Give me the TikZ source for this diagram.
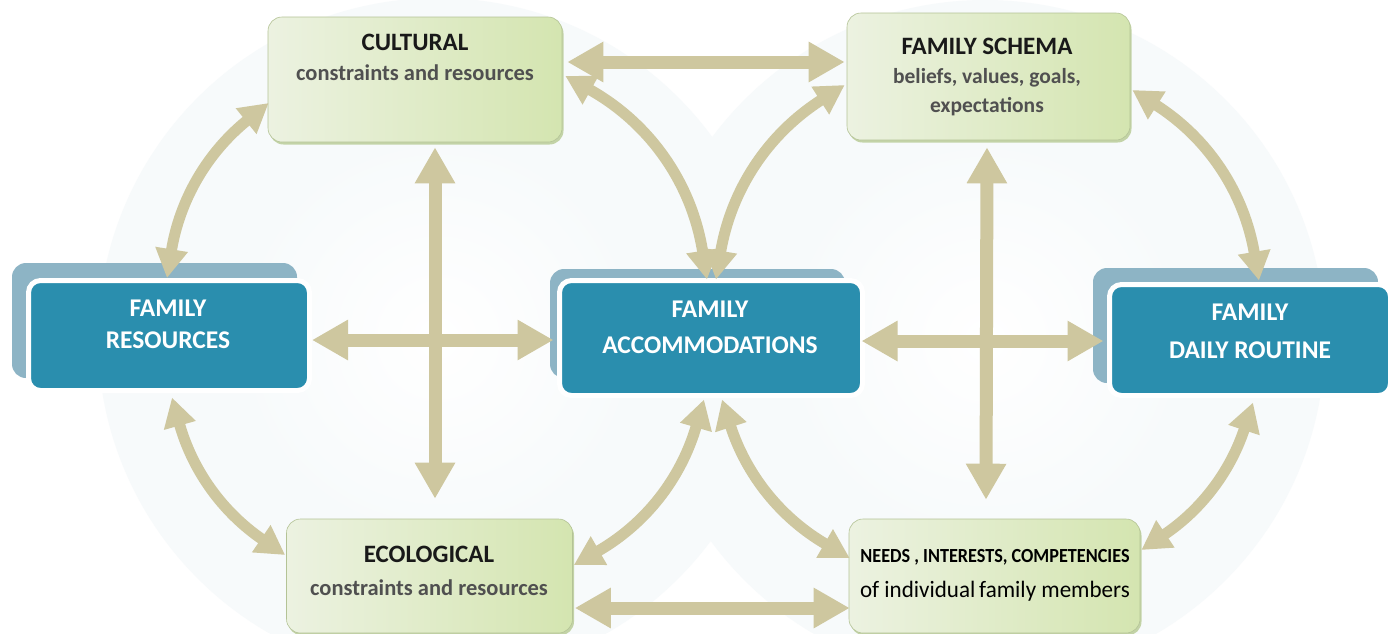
\documentclass[tikz,border=0pt]{standalone}
\usepackage{fontspec}
\setmainfont{Carlito}
\usetikzlibrary{arrows.meta,shadows}

\definecolor{arrowc}{RGB}{206,199,159}
\definecolor{bluefront}{RGB}{42,142,174}
\definecolor{blueback}{RGB}{141,180,197}
\definecolor{greenL}{RGB}{236,242,225}
\definecolor{greenR}{RGB}{212,229,176}
\definecolor{greenshadow}{RGB}{178,199,140}
\definecolor{subgray}{RGB}{80,80,80}
\definecolor{glowc}{RGB}{247,250,251}

\pgfdeclareradialshading{glowshade}{\pgfpoint{0bp}{0bp}}{color(0bp)=(white); color(15bp)=(glowc); color(30bp)=(glowc); color(48bp)=(white); color(50bp)=(white)}

\begin{document}
\begin{tikzpicture}[x=1pt,y=-1pt,
  greenbox/.style={rounded corners=14pt, left color=greenL, right color=greenR,
    draw=greenR!85!black, line width=0.6pt, inner sep=0pt,
    drop shadow={shadow xshift=1.5pt, shadow yshift=-2.5pt, fill=greenshadow, opacity=0.75}},
  backbox/.style={rounded corners=14pt, fill=blueback, inner sep=0pt},
  frontbox/.style={rounded corners=12pt, fill=bluefront, draw=white, line width=5pt, inner sep=0pt},
  gtitle/.style={anchor=base, inner sep=0pt, text=black!90, font=\fontsize{25}{30}\selectfont\bfseries},
  gsub/.style={anchor=base, inner sep=0pt, text=subgray, font=\fontsize{21.5}{26}\selectfont\bfseries},
  btext/.style={anchor=base, inner sep=0pt, text=white, font=\fontsize{25.5}{30}\selectfont\bfseries},
  bigarrow/.style={draw=arrowc, line width=13pt,
    {Triangle[width=38pt,length=36pt]}-{Triangle[width=38pt,length=36pt]}},
  arcarrow/.style={draw=arrowc, line width=11pt,
    {Triangle[width=31pt,length=29pt]}-{Triangle[width=31pt,length=29pt]}}
]
\useasboundingbox (0,0) rectangle (1395,633);
\fill[white] (0,0) rectangle (1395,633);
\shade[shading=glowshade] (438,338) circle[radius=340];
\shade[shading=glowshade] (985,340) circle[radius=340];

% green boxes
\node[greenbox, minimum width=294pt, minimum height=125pt] (cult) at (415,79.5) {};
\node[greenbox, minimum width=283pt, minimum height=127pt] (schema) at (988.5,76.5) {};
\node[greenbox, minimum width=286pt, minimum height=114pt] (ecol) at (429.5,576) {};
\node[greenbox, minimum width=291pt, minimum height=114pt] (needs) at (994.5,576) {};

% blue boxes
\node[backbox, minimum width=285pt, minimum height=115pt] (resback) at (154.5,320.5) {};
\node[frontbox, minimum width=281pt, minimum height=110pt] (res) at (169,335.5) {};
\node[backbox, minimum width=295pt, minimum height=109pt] (accback) at (697.5,323.5) {};
\node[frontbox, minimum width=303pt, minimum height=115pt] (acc) at (711,338) {};
\node[backbox, minimum width=285pt, minimum height=115pt] (dayback) at (1235.5,325.5) {};
\node[frontbox, minimum width=281pt, minimum height=111pt] (day) at (1250,340) {};

% texts
\node[gtitle] (cultT) at (415,50) {CULTURAL};
\node[gsub, font=\fontsize{22.5}{26}\selectfont\bfseries] (cultS) at (415,80) {constraints and resources};
\node[gtitle] (schemaT) at (987,54) {FAMILY SCHEMA};
\node[gsub] (schemaS1) at (987,83) {beliefs, values, goals,};
\node[gsub] (schemaS2) at (987,112) {expectations};
\node[gtitle] (ecolT) at (429,562) {ECOLOGICAL};
\node[gsub, font=\fontsize{22.5}{26}\selectfont\bfseries] (ecolS) at (429,595) {constraints and resources};
\node[anchor=base, inner sep=0pt, text=black, font=\fontsize{20}{24}\selectfont\bfseries] (needsT) at (995,562)
  {\scalebox{0.91}[1]{NEEDS , INTERESTS, COMPETENCIES}};
\node[anchor=base, inner sep=0pt, text=black, font=\fontsize{23.5}{28}\selectfont] (needsS) at (995,597)
  {\scalebox{0.98}[1]{of individual\,family members}};

\node[btext] (resT1) at (168,316) {FAMILY};
\node[btext] (resT2) at (168,348) {RESOURCES};
\node[btext] (accT1) at (710,317) {FAMILY};
\node[btext] (accT2) at (710,353) {ACCOMMODATIONS};
\node[btext] (dayT1) at (1250,320) {FAMILY};
\node[btext] (dayT2) at (1250,358) {DAILY ROUTINE};

% straight arrows
\draw[bigarrow] ([shift={(5,-17.5)}]cult.east) -- ([shift={(-2,-14.5)}]schema.west);
\draw[bigarrow] ([shift={(2,32)}]ecol.east) -- ([shift={(1,32)}]needs.west);
\draw[bigarrow] ([shift={(0,4.5)}]res.east) -- ([shift={(-3.5,2)}]acc.west);
\draw[bigarrow] ([shift={(-3.5,3)}]acc.east) -- ([shift={(-3.5,1)}]day.west);
\draw[bigarrow] ([shift={(20,5)}]cult.south) -- ([shift={(5.5,-20)}]ecol.north);
\draw[bigarrow] ([shift={(-1.5,7)}]schema.south) -- ([shift={(-8.5,-19)}]needs.north);

% curved arrows, left circle
\draw[arcarrow] ([shift={(-2,0)}]res.north) to[bend left=21] ([shift={(1,23.5)}]cult.west);
\draw[arcarrow] ([shift={(3,-3.5)}]cult.east) to[bend left=26] ([shift={(-4,1.5)}]acc.north);
\draw[arcarrow] ([shift={(3,4.5)}]res.south) to[bend right=20] ([shift={(-1,-21)}]ecol.west);
\draw[arcarrow] ([shift={(1,-11)}]ecol.east) to[bend right=22] ([shift={(-7,1.5)}]acc.south);
% curved arrows, right circle
\draw[arcarrow] ([shift={(-2,8.5)}]schema.west) to[bend right=24] ([shift={(5,1.5)}]acc.north);
\draw[arcarrow] ([shift={(2,13.5)}]schema.east) to[bend left=24] ([shift={(9,-1.5)}]day.north);
\draw[arcarrow] ([shift={(1,-18)}]needs.west) to[bend left=21] ([shift={(11,1.5)}]acc.south);
\draw[arcarrow] ([shift={(1,-26)}]needs.east) to[bend right=19] ([shift={(3,4.5)}]day.south);
\end{tikzpicture}
\end{document}
